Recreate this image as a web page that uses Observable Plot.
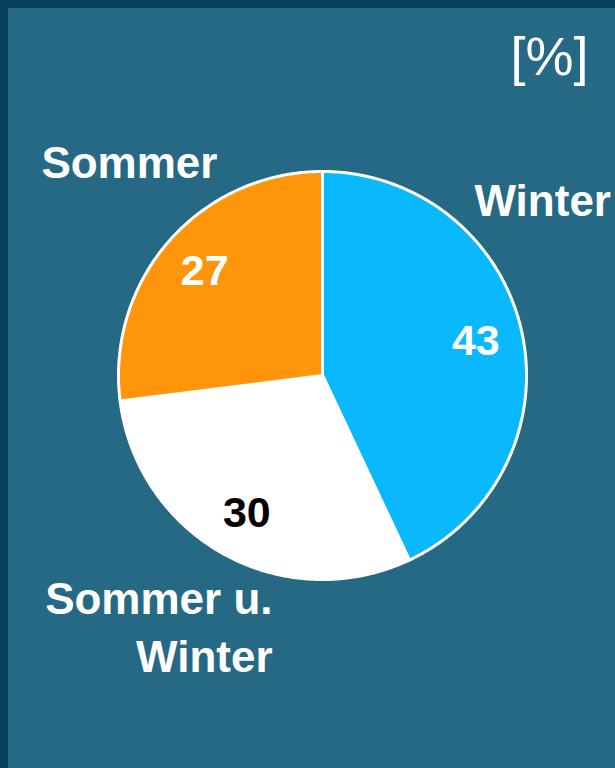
<!DOCTYPE html>
<html><head><meta charset="utf-8">
<script src="https://cdn.jsdelivr.net/npm/d3@7"></script>
<script src="https://cdn.jsdelivr.net/npm/@observablehq/plot@0.6"></script>
<style>
html,body{margin:0;padding:0;background:#266984;}
#frame{position:relative;width:615px;height:768px;overflow:hidden;background:#266984;}
#frame::before{content:"";position:absolute;left:0;top:0;width:615px;height:8px;background:#053f58;z-index:2;}
#frame::after{content:"";position:absolute;left:0;top:0;width:8px;height:768px;background:#053f58;z-index:2;}
#chart{position:absolute;left:0;top:0;}
</style></head><body><div id="frame"><div id="chart"></div></div>
<script>
// ---- data ----
const categories = ["Winter", "Sommer u.\nWinter", "Sommer"];
const values = [43, 30, 27];
const sliceColors = ["#0ab9fd", "#ffffff", "#fe950a"];
const valueColors = ["#ffffff", "#000000", "#ffffff"];
const unitLabel = "[%]";

// ---- layout (unit-circle coordinates) ----
const labelLayout = [
  {x: 0.745, y: 0.935, anchor: "start"},   // Winter
  {x: -0.245, y: -0.972, anchor: "end"},   // Sommer u. Winter
  {x: -1.378, y: 1.122, anchor: "start"}   // Sommer
];
const unitPos = {x: 1.304, y: 1.66};
const valueRadius = 0.77;

const arcs = d3.pie().sort(null).value(d => d)(values);
const slicePts = [];
arcs.forEach((a, i) => {
  slicePts.push({x: 0, y: 0, k: i, c: sliceColors[i]});
  const n = Math.max(2, Math.ceil((a.endAngle - a.startAngle) / (Math.PI / 360)));
  for (let j = 0; j <= n; j++) {
    const t = a.startAngle + (a.endAngle - a.startAngle) * j / n;
    slicePts.push({x: Math.sin(t), y: Math.cos(t), k: i, c: sliceColors[i]});
  }
  slicePts.push({x: 0, y: 0, k: i, c: sliceColors[i]});
});
const valueData = arcs.map((a, i) => {
  const m = (a.startAngle + a.endAngle) / 2;
  return {x: valueRadius * Math.sin(m), y: valueRadius * Math.cos(m), t: String(values[i]), c: valueColors[i]};
});
const labelData = categories.map((c, i) => ({...labelLayout[i], t: c}));

const font = "Liberation Sans, Arial, sans-serif";
const chart = Plot.plot({
  width: 615, height: 768, margin: 0,
  x: {domain: [-1, 1], range: [118, 526], axis: null},
  y: {domain: [-1, 1], range: [579, 171], axis: null},
  color: {type: "identity"},
  style: {background: "transparent", overflow: "visible", fontFamily: font},
  marks: [
    Plot.line(slicePts, {x: "x", y: "y", z: "k", fill: "c", stroke: "#ffffff", strokeWidth: 3, strokeLinejoin: "round", curve: "linear"}),
    Plot.text(valueData, {x: "x", y: "y", text: "t", fill: "c", fontSize: 43, fontWeight: "bold", fontFamily: font, lineAnchor: "middle", textAnchor: "middle"}),
    Plot.text(labelData.filter(d => d.anchor === "start"), {x: "x", y: "y", text: "t", fill: "#ffffff", fontSize: 44, fontWeight: "bold", fontFamily: font, lineAnchor: "top", textAnchor: "start"}),
    Plot.text(labelData.filter(d => d.anchor === "end"), {x: "x", y: "y", text: "t", fill: "#ffffff", fontSize: 44, fontWeight: "bold", fontFamily: font, lineAnchor: "top", textAnchor: "end", lineHeight: 1.3}),
    Plot.text([unitPos], {x: "x", y: "y", text: () => unitLabel, fill: "#ffffff", fontSize: 54, fontWeight: "normal", fontFamily: font, lineAnchor: "top", textAnchor: "end"})
  ]
});
document.getElementById("chart").appendChild(chart);
</script></body></html>
